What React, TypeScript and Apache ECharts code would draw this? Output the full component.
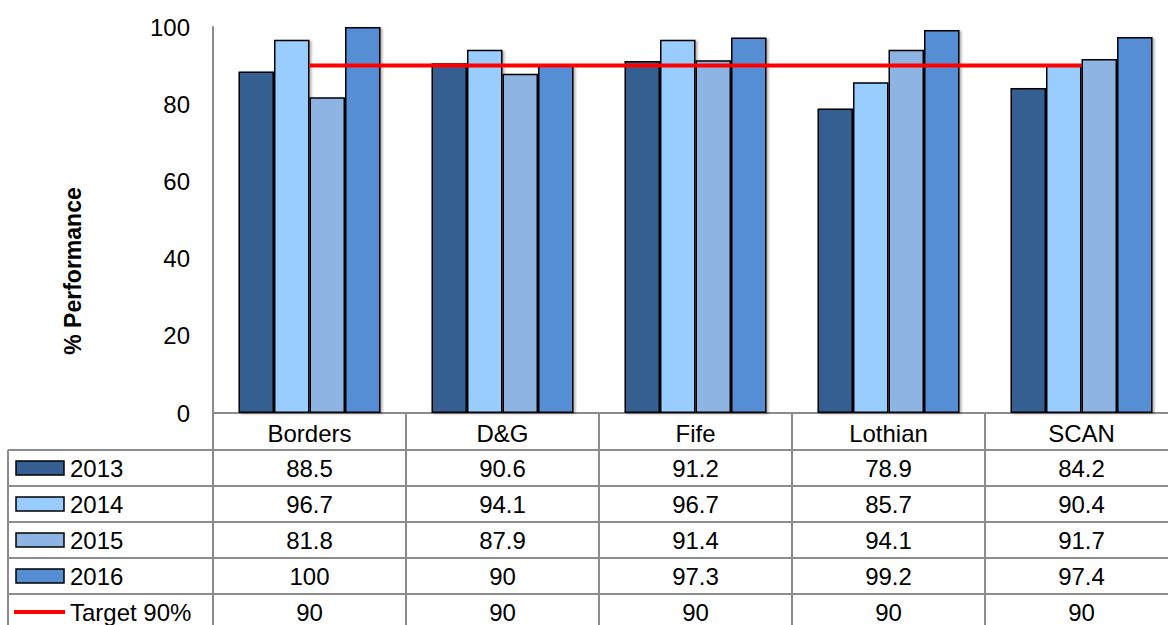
import React, { useEffect, useRef } from "react";
import * as echarts from "echarts";

const regions = ["Borders", "D&G", "Fife", "Lothian", "SCAN"];
const years = ["2013", "2014", "2015", "2016"];
const values2013 = [88.5, 90.6, 91.2, 78.9, 84.2];
const values2014 = [96.7, 94.1, 96.7, 85.7, 90.4];
const values2015 = [81.8, 87.9, 91.4, 94.1, 91.7];
const values2016 = [100, 90, 97.3, 99.2, 97.4];
const targetName = "Target 90%";
const targetValues = [90, 90, 90, 90, 90];
const yTicks = { min: 0, max: 100, interval: 20 };
const yTitle = "% Performance";

const yearColors = ["#355f91", "#99ccff", "#8eb4e3", "#558ed5"];
const targetColor = "#ff0000";
const gridColor = "#8c8c8c";
const FONT = "'Liberation Sans', Arial, sans-serif";

const W = 1168;
const H = 625;
const GRID_LEFT = 213;
const GRID_TOP = 27;
const AXIS_Y = 413;
const COL_W = 193;
const ROW_TOPS = [450, 486, 522, 558, 594];
const ROW_H = 36;
const TABLE_LEFT = 8;

export default function App() {
  const ref = useRef<HTMLDivElement>(null);

  useEffect(() => {
    if (!ref.current) return;
    const chart = echarts.init(ref.current, undefined, { renderer: "svg" });
    const yearValues = [values2013, values2014, values2015, values2016];

    const barSeries = years.map((y, i) => ({
      name: y,
      type: "bar",
      data: yearValues[i],
      barGap: "0%",
      barCategoryGap: "26.4%",
      itemStyle: {
        color: yearColors[i],
        borderColor: "#000",
        borderWidth: 1.5,
        shadowColor: "rgba(0,0,0,0.3)",
        shadowOffsetX: 2,
        shadowOffsetY: 1,
        shadowBlur: 2,
      },
    }));

    chart.setOption({
      animation: false,
      backgroundColor: "#fff",
      textStyle: { fontFamily: FONT },
      grid: {
        left: GRID_LEFT,
        top: GRID_TOP,
        width: COL_W * regions.length,
        height: AXIS_Y - GRID_TOP,
        containLabel: false,
        outerBoundsMode: "none",
      },
      xAxis: {
        type: "category",
        data: regions,
        axisLine: { show: true, lineStyle: { color: gridColor, width: 2 } },
        axisTick: {
          show: true,
          alignWithLabel: false,
          interval: 0,
          length: H - AXIS_Y + 10,
          lineStyle: { color: gridColor, width: 2 },
        },
        axisLabel: { color: "#000", fontSize: 24, margin: 8, fontFamily: FONT },
        splitLine: { show: false },
      },
      yAxis: {
        type: "value",
        min: yTicks.min,
        max: yTicks.max,
        interval: yTicks.interval,
        axisLine: { show: true, lineStyle: { color: gridColor, width: 2 } },
        axisTick: { show: false },
        axisLabel: { color: "#000", fontSize: 24, margin: 23, fontFamily: FONT },
        splitLine: { show: false },
      },
      series: [
        ...barSeries,
        {
          name: targetName,
          type: "line",
          data: targetValues,
          symbol: "none",
          z: 5,
          lineStyle: { color: targetColor, width: 4 },
        },
      ],
    });

    // Data table under the plot: rows per series, columns aligned with categories
    const rowLabels = [...years, targetName];
    const rowValues = [...yearValues, targetValues];
    const graphics: any[] = [];
    const right = W + 20;

    graphics.push({
      type: "text",
      x: 73,
      y: 271,
      rotation: Math.PI / 2,
      style: {
        text: yTitle,
        fill: "#000",
        font: `bold 23px ${FONT}`,
        textAlign: "center",
        textVerticalAlign: "middle",
      },
    });

    ROW_TOPS.forEach((top) => {
      graphics.push({
        type: "line",
        shape: { x1: TABLE_LEFT, y1: top, x2: right, y2: top },
        style: { stroke: gridColor, lineWidth: 2 },
      });
    });
    graphics.push({
      type: "line",
      shape: { x1: TABLE_LEFT, y1: ROW_TOPS[0], x2: TABLE_LEFT, y2: H + 10 },
      style: { stroke: gridColor, lineWidth: 2 },
    });

    rowLabels.forEach((label, r) => {
      const cy = ROW_TOPS[r] + ROW_H / 2;
      if (r < years.length) {
        graphics.push({
          type: "rect",
          shape: { x: 16, y: cy - 7, width: 48, height: 14 },
          style: { fill: yearColors[r], stroke: "#000", lineWidth: 1.5 },
        });
      } else {
        graphics.push({
          type: "line",
          shape: { x1: 14, y1: cy, x2: 65, y2: cy },
          style: { stroke: targetColor, lineWidth: 4 },
        });
      }
      graphics.push({
        type: "text",
        x: 70,
        y: cy,
        style: {
          text: label,
          fill: "#000",
          font: `24px ${FONT}`,
          textAlign: "left",
          textVerticalAlign: "middle",
        },
      });
      rowValues[r].forEach((v, c) => {
        const cx = chart.convertToPixel({ xAxisIndex: 0 }, c) as number;
        graphics.push({
          type: "text",
          x: cx,
          y: cy,
          style: {
            text: String(v),
            fill: "#000",
            font: `24px ${FONT}`,
            textAlign: "center",
            textVerticalAlign: "middle",
          },
        });
      });
    });

    chart.setOption({ graphic: graphics });

    return () => chart.dispose();
  }, []);

  return (
    <div
      ref={ref}
      style={{ position: "absolute", left: 0, top: 0, width: W, height: H, background: "#fff" }}
    />
  );
}
